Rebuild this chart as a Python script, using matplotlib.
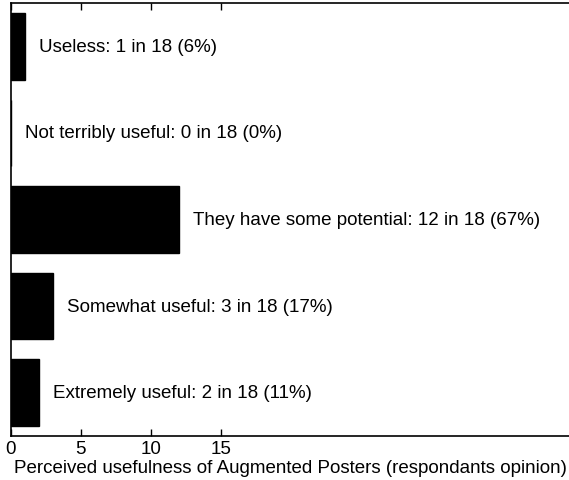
import numpy as np
import matplotlib
matplotlib.use('Agg')
import matplotlib.pyplot as plt

# answers, bottom to top like matlab barh
labels = ['Extremely useful', 'Somewhat useful', 'They have some potential',
          'Not terribly useful', 'Useless']
counts = [2, 3, 12, 0, 1]
total = 18

plt.rcParams['font.family'] = ['Liberation Sans', 'DejaVu Sans']
fs = 13.5

fig = plt.figure(figsize=(5.69, 4.81), dpi=100)
ax = fig.add_axes([11/569, 44/481, 1 - 11/569 + 0.002, 433/481])

y = np.arange(1, len(counts) + 1)
ax.barh(y, counts, height=0.77, color='black', edgecolor='black')

for yi, c, lab in zip(y, counts, labels):
    pct = int(round(100.0 * c / total))
    ax.text(c + 1.0, yi, '%s: %d in %d (%d%%)' % (lab, c, total, pct),
            va='center', ha='left', fontsize=fs)

ax.set_xlim(0, 40)
ax.set_ylim(0.5, 5.5)
ax.set_xticks([0, 5, 10, 15])
ax.set_yticks([])
ax.tick_params(axis='x', direction='in', top=True, length=5, width=1,
               labelsize=fs, pad=3)
for s in ['left', 'bottom', 'top']:
    ax.spines[s].set_linewidth(1.2)
ax.spines['right'].set_visible(False)
ax.set_xlabel('Perceived usefulness of Augmented Posters (respondants opinion)',
              fontsize=fs, labelpad=1)

fig.savefig('out.png', dpi=100)
